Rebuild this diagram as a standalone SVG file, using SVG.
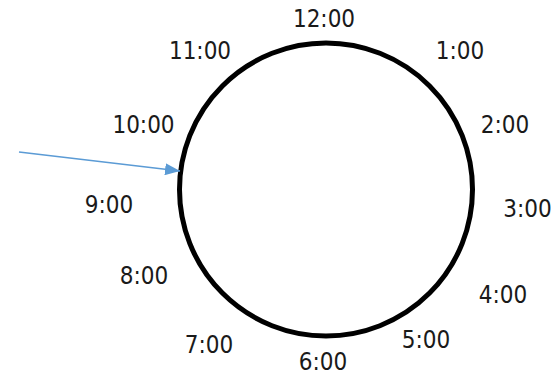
<svg xmlns="http://www.w3.org/2000/svg" width="560" height="376" viewBox="0 0 560 376">
<defs>
<style>
.lbl{font-family:"DejaVu Sans Condensed","DejaVu Sans",sans-serif;font-size:24px;fill:#1a1a1a;text-anchor:middle}
</style>
<marker id="ah" markerWidth="15" markerHeight="12" refX="15" refY="6" orient="auto" markerUnits="userSpaceOnUse" viewBox="0 0 15 12">
<path d="M0,0 L15,6 L0,12 Z" fill="#5B9BD5"/>
</marker>
</defs>
<rect width="560" height="376" fill="#fff"/>
<g id="clock">
<circle cx="326" cy="189.5" r="146.5" fill="none" stroke="#000" stroke-width="5"/>
</g>
<g id="labels">
<text class="lbl" x="324" y="27">12:00</text>
<text class="lbl" x="460" y="59">1:00</text>
<text class="lbl" x="505" y="133">2:00</text>
<text class="lbl" x="527.5" y="217">3:00</text>
<text class="lbl" x="503" y="303">4:00</text>
<text class="lbl" x="426" y="348">5:00</text>
<text class="lbl" x="323" y="370">6:00</text>
<text class="lbl" x="209" y="353">7:00</text>
<text class="lbl" x="144" y="284">8:00</text>
<text class="lbl" x="109" y="213">9:00</text>
<text class="lbl" x="143.5" y="133">10:00</text>
<text class="lbl" x="200" y="59">11:00</text>
</g>
<g id="connectors">
<line x1="19" y1="152" x2="180" y2="171" stroke="#5B9BD5" stroke-width="1.6" marker-end="url(#ah)"/>
</g>
</svg>
